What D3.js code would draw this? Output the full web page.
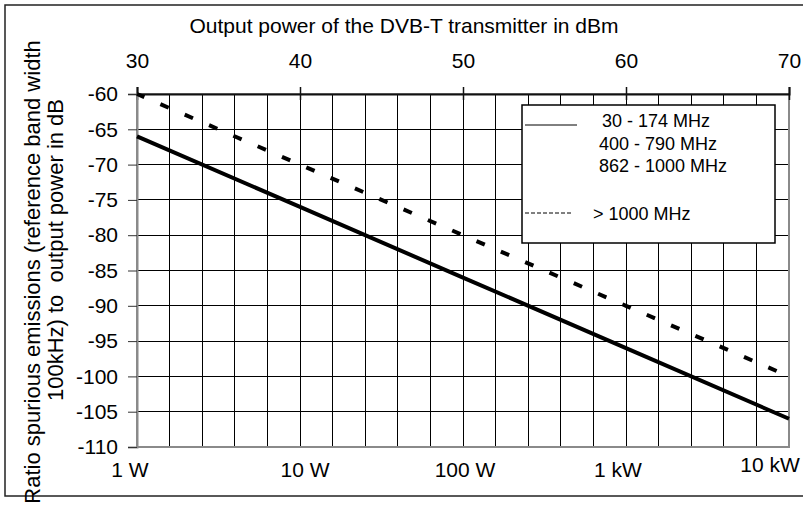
<!DOCTYPE html>
<html>
<head>
<meta charset="utf-8">
<script src="https://cdn.jsdelivr.net/npm/d3@7"></script>
<style>
body { margin: 0; background: #fff; }
svg { display: block; }
text { font-family: "Liberation Sans", Arial, sans-serif; fill: #000; white-space: pre; }
</style>
</head>
<body>
<svg id="chart" width="803" height="507"></svg>
<script>
// output power of the transmitter in dBm
let power_dbm = [30, 40, 50, 60, 70];
// spurious emission limit relative to output power, dB
let limit_low = [-66, -76, -86, -96, -106];   // 30-174, 400-790, 862-1000 MHz
let limit_high = [-60, -70, -80, -90, -100];  // > 1000 MHz

let top_ticks = [30, 40, 50, 60, 70];
let left_ticks = [-60, -65, -70, -75, -80, -85, -90, -95, -100, -105, -110];
let watt_labels = ["1 W", "10 W", "100 W", "1 kW", "10 kW"];
let watt_dbm = [30, 40, 50, 60, 70];
let legend_labels = ["30 - 174 MHz", "400 - 790 MHz", "862 - 1000 MHz", "> 1000 MHz"];

let svg = d3.select("#chart");

let x = d3.scaleLinear().domain([30, 70]).range([137, 789]);
let y = d3.scaleLinear().domain([-60, -110]).range([94, 447]);

// outer frame (right side runs off the picture)
svg.append("rect")
    .attr("x", 5).attr("y", 5)
    .attr("width", 830).attr("height", 491)
    .attr("fill", "none")
    .attr("stroke", "#222")
    .attr("stroke-width", 1.5);

// grid
let grid = svg.append("g").attr("shape-rendering", "crispEdges");
grid.selectAll(".vgrid")
    .data(d3.range(32, 70, 2))
    .enter().append("line")
    .attr("class", "vgrid")
    .attr("x1", d => x(d)).attr("x2", d => x(d))
    .attr("y1", y(-60)).attr("y2", y(-110))
    .attr("stroke", "#000").attr("stroke-width", 1);
grid.selectAll(".hgrid")
    .data(left_ticks.slice(1, -1))
    .enter().append("line")
    .attr("class", "hgrid")
    .attr("x1", x(30)).attr("x2", x(70))
    .attr("y1", d => y(d)).attr("y2", d => y(d))
    .attr("stroke", "#000").attr("stroke-width", 1);

// plot border: grey on left, bottom, right; black on top
svg.append("rect")
    .attr("x", x(30)).attr("y", y(-60))
    .attr("width", x(70) - x(30)).attr("height", y(-110) - y(-60))
    .attr("fill", "none")
    .attr("stroke", "#8a8a8a")
    .attr("stroke-width", 2);

// top axis (dBm)
let topAxis = svg.append("g")
    .attr("transform", `translate(0,${y(-60)})`)
    .call(d3.axisTop(x).tickValues(top_ticks).tickSize(7).tickPadding(19).tickFormat(d => String(d)));
topAxis.select(".domain").attr("stroke", "#111").attr("stroke-width", 2);
topAxis.selectAll(".tick line").attr("stroke", "#111").attr("stroke-width", 1.5).attr("y2", -7);
topAxis.selectAll(".tick").append("line")
    .attr("y1", 0).attr("y2", 6)
    .attr("stroke", "#111").attr("stroke-width", 1.5);
topAxis.selectAll(".tick text").attr("font-size", 21).attr("font-family", "Liberation Sans, Arial, sans-serif");

// left axis (dB)
let leftAxis = svg.append("g")
    .attr("transform", `translate(${x(30)},0)`)
    .call(d3.axisLeft(y).tickValues(left_ticks).tickSize(9).tickPadding(10).tickFormat(d => String(d)));
leftAxis.select(".domain").attr("stroke", "#8a8a8a").attr("stroke-width", 2);
leftAxis.selectAll(".tick line").attr("stroke", "#333").attr("stroke-width", 1);
leftAxis.selectAll(".tick text").attr("font-size", 21).attr("font-family", "Liberation Sans, Arial, sans-serif");

// bottom labels in watts (same positions as the dBm ticks, nudged like the original)
let nudge = [-7, 5, 2, -8, -19];
let nudge_y = [477, 477, 477, 477, 472];
svg.selectAll(".watt")
    .data(watt_labels)
    .enter().append("text")
    .attr("class", "watt")
    .attr("x", (d, i) => x(watt_dbm[i]) + nudge[i])
    .attr("y", (d, i) => nudge_y[i])
    .attr("text-anchor", "middle")
    .attr("font-size", 21)
    .text(d => d);

// axis titles
svg.append("text")
    .attr("x", 404).attr("y", 33)
    .attr("text-anchor", "middle")
    .attr("font-size", 21)
    .text("Output power of the DVB-T transmitter in dBm");

svg.append("text")
    .attr("transform", "translate(40,272) rotate(-90)")
    .attr("text-anchor", "middle")
    .attr("font-size", 22)
    .text("Ratio spurious emissions (reference band width");
svg.append("text")
    .attr("transform", "translate(63,250) rotate(-90)")
    .attr("text-anchor", "middle")
    .attr("font-size", 22)
    .text("100kHz) to  output power in dB");

// limit lines
let line = d3.line()
    .x((d, i) => x(power_dbm[i]))
    .y(d => y(d));

svg.append("path")
    .datum(limit_high)
    .attr("d", line)
    .attr("fill", "none")
    .attr("stroke", "#000")
    .attr("stroke-width", 4)
    .attr("stroke-dasharray", "9,17.5")
    .attr("stroke-dashoffset", 1);

svg.append("path")
    .datum(limit_low)
    .attr("d", line)
    .attr("fill", "none")
    .attr("stroke", "#000")
    .attr("stroke-width", 4);

// legend
let legend = svg.append("g");
legend.append("rect")
    .attr("x", 522).attr("y", 105)
    .attr("width", 253).attr("height", 138)
    .attr("fill", "#fff")
    .attr("stroke", "#000")
    .attr("stroke-width", 1.5);
legend.append("line")
    .attr("x1", 525).attr("x2", 577)
    .attr("y1", 125).attr("y2", 125)
    .attr("stroke", "#000").attr("stroke-width", 1);
legend.append("line")
    .attr("x1", 525).attr("x2", 573)
    .attr("y1", 213).attr("y2", 213)
    .attr("stroke", "#000").attr("stroke-width", 1)
    .attr("stroke-dasharray", "4,2");
let legend_x = [602, 599, 599, 593];
let legend_y = [127, 150, 172, 220];
legend.selectAll(".lbl")
    .data(legend_labels)
    .enter().append("text")
    .attr("class", "lbl")
    .attr("x", (d, i) => legend_x[i])
    .attr("y", (d, i) => legend_y[i])
    .attr("font-size", 18)
    .text(d => d);
</script>
</body>
</html>
